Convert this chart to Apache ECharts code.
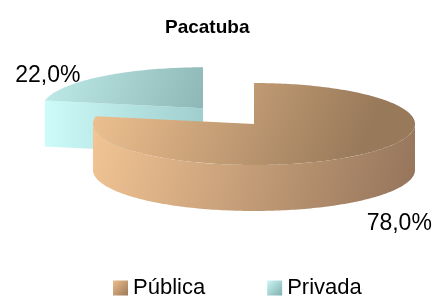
<!DOCTYPE html>
<html>
<head>
<meta charset="utf-8">
<script src="https://cdn.jsdelivr.net/npm/echarts@6/dist/echarts.min.js"></script>
<style>html,body{margin:0;padding:0;background:#fff}#c{width:435px;height:297px}</style>
</head>
<body>
<div id="c"></div>
<script>
// ---- data ----
const chartTitle = 'Pacatuba';
const categories = ['Pública', 'Privada'];
const values = [78, 22];

// ---- layout / style (not data) ----
const CX = 254, CY = 124, RX = 161, RY = 41, DEPTH = 46;
const explode = [0, 80];
const labelOffset = [[10, 22], [-20, -1]];
const FONT = '"Liberation Sans", Arial, sans-serif';
const palettes = [
  { top: ['#F0C291', '#98795A'], side: ['#F3C594', '#93735A'], face: ['#F0C090', '#A07E5C'], icon: ['#EDBD8D', '#9C7A58'] },
  { top: ['#C0ECEA', '#6A9493'], side: ['#C8F8F6', '#96C4C3'], face: ['#CCFBF9', '#A0CDCD'], icon: ['#CDF6F6', '#7FAFAF'] }
];

const total = values.reduce((a, b) => a + b, 0);
const starts = [];
values.reduce((acc, v, i) => { starts[i] = acc; return acc + v; }, 0);

function grad(x1, y1, x2, y2, c) {
  return new echarts.graphic.LinearGradient(x1, y1, x2, y2, [{ offset: 0, color: c[0] }, { offset: 1, color: c[1] }], true);
}

function makeRender(idx) {
  return function (params, api) {
    const v = api.value(0), s = api.value(1), t = api.value(2);
    const a0 = s / t * Math.PI * 2, a1 = (s + v) / t * Math.PI * 2;
    const mid = (a0 + a1) / 2;
    const d = explode[idx];
    const cx = CX + d * Math.sin(mid);
    const cy = CY - d * (RY / RX) * Math.cos(mid);
    const pt = (a, dy) => [cx + RX * Math.sin(a), cy - RY * Math.cos(a) + (dy || 0)];
    const arc = (b0, b1, dy) => {
      const n = Math.max(2, Math.ceil((b1 - b0) / 0.02));
      const out = [];
      for (let k = 0; k <= n; k++) out.push(pt(b0 + (b1 - b0) * k / n, dy));
      return out;
    };
    const pal = palettes[idx];
    const children = [];
    const faceAt = (a) => {
      const p = pt(a);
      children.push({
        type: 'polygon',
        shape: { points: [[cx, cy], p, [p[0], p[1] + DEPTH], [cx, cy + DEPTH]] },
        style: { fill: grad(Math.min(cx, p[0]), 0, Math.max(cx, p[0]), 0, pal.face) }
      });
    };
    if (Math.sin(a0) < -1e-6) faceAt(a0);
    if (Math.sin(a1) > 1e-6) faceAt(a1);
    const s0 = Math.max(a0, Math.PI / 2), s1 = Math.min(a1, Math.PI * 1.5);
    if (s1 > s0) {
      const topArc = arc(s0, s1, 0);
      const botArc = arc(s0, s1, DEPTH).reverse();
      children.push({
        type: 'polygon',
        shape: { points: topArc.concat(botArc) },
        style: { fill: grad(cx - RX, cy, cx + RX, cy + RY + DEPTH, pal.side) }
      });
    }
    children.push({
      type: 'polygon',
      shape: { points: [[cx, cy]].concat(arc(a0, a1, 0)) },
      style: { fill: grad(cx - RX, cy - RY, cx + RX * 0.6, cy + RY * 1.4, pal.top) }
    });
    const lower = Math.cos(mid) < 0;
    const rim = pt(mid, lower ? DEPTH : 0);
    const txt = (v / t * 100).toFixed(1).replace('.', ',') + '%';
    children.push({
      type: 'text',
      x: rim[0] + labelOffset[idx][0],
      y: rim[1] + labelOffset[idx][1],
      style: {
        text: txt, fontSize: 23, fontFamily: FONT, fill: '#000',
        align: Math.sin(mid) >= 0 ? 'left' : 'right', verticalAlign: 'middle'
      }
    });
    return { type: 'group', children };
  };
}

const chart = echarts.init(document.getElementById('c'), null, { renderer: 'canvas' });
chart.setOption({
  animation: false,
  backgroundColor: '#fff',
  title: {
    text: chartTitle, left: 160, top: 13,
    textStyle: { fontSize: 19, fontWeight: 'bold', fontFamily: FONT, color: '#000' }
  },
  legend: {
    data: categories, left: 113, top: 277, icon: 'rect',
    itemWidth: 15, itemHeight: 15, itemGap: 62, padding: 0,
    textStyle: { fontSize: 22, fontFamily: FONT, color: '#000' }
  },
  series: categories.map((name, i) => ({
    type: 'custom',
    name,
    coordinateSystem: 'none',
    z: i === 0 ? 3 : 2,
    itemStyle: {
      color: new echarts.graphic.LinearGradient(0, 0, 1, 1, [
        { offset: 0, color: palettes[i].icon[0] }, { offset: 1, color: palettes[i].icon[1] }
      ])
    },
    renderItem: makeRender(i),
    data: [[values[i], starts[i], total]]
  }))
});
</script>
</body>
</html>
